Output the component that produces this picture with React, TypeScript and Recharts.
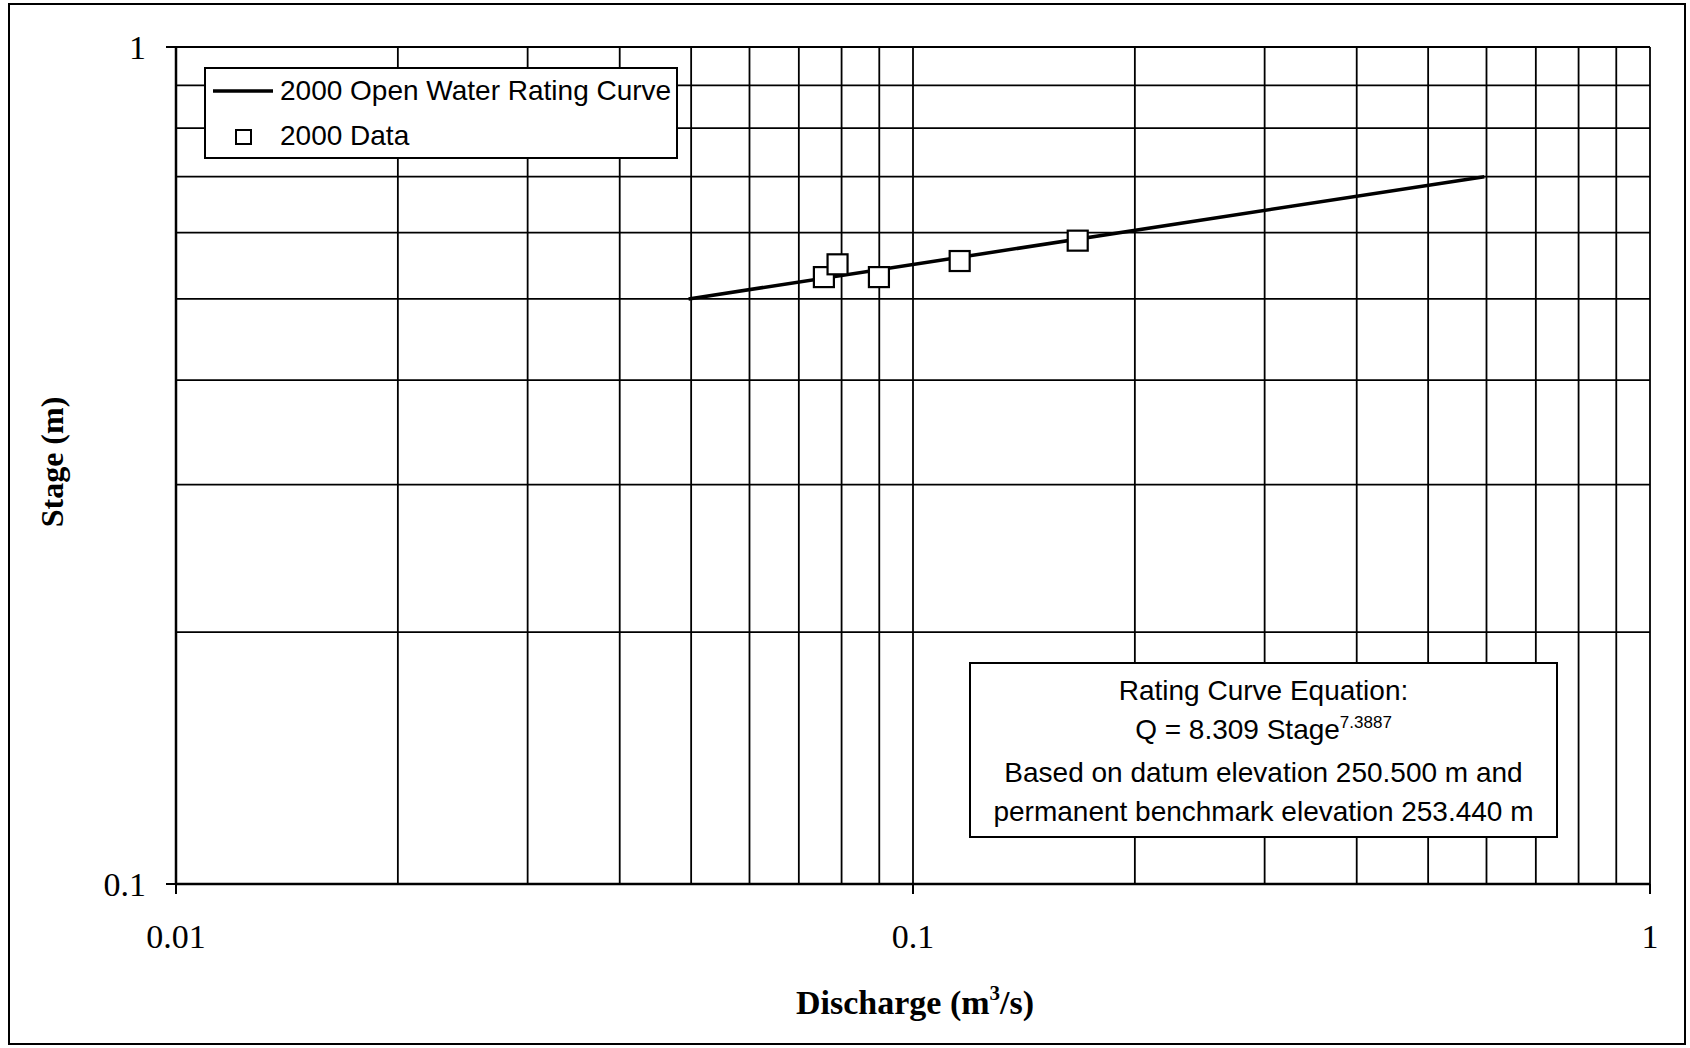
import React from "react"
import { ComposedChart, Line, Scatter, XAxis, YAxis, CartesianGrid, Legend } from "recharts"

// rating curve end points (power law, straight on log-log)
const ratingCurve = [
  { q: 0.0496, stage: 0.5 },
  { q: 0.596, stage: 0.7 },
]

// measured 2000 data
const observations = [
  { q: 0.0757, stage: 0.531 },
  { q: 0.079, stage: 0.55 },
  { q: 0.0899, stage: 0.531 },
  { q: 0.1157, stage: 0.555 },
  { q: 0.1673, stage: 0.587 },
]

const xTicks = [0.01, 0.1, 1]
const yTicks = [0.1, 1]
const xGrid = [0.02, 0.03, 0.04, 0.05, 0.06, 0.07, 0.08, 0.09, 0.1, 0.2, 0.3, 0.4, 0.5, 0.6, 0.7, 0.8, 0.9, 1]
const yGrid = [0.2, 0.3, 0.4, 0.5, 0.6, 0.7, 0.8, 0.9, 1]

const serif = "'Times New Roman', 'Liberation Serif', serif"
const sans = "Arial, 'Liberation Sans', sans-serif"

const SquareDot = (props: any) => {
  const { cx, cy } = props
  if (cx == null || cy == null) return null
  return <rect x={cx - 10} y={cy - 10} width={20} height={20} fill="#fff" stroke="#000" strokeWidth={2.2} />
}

const LegendBox = ({ payload }: any) => {
  // line entry first, as in the original legend
  const items = (Array.isArray(payload) ? payload : [])
    .slice()
    .sort((a: any, b: any) => (a.type === "line" ? -1 : 0) - (b.type === "line" ? -1 : 0))
  return (
    <div
      style={{
        boxSizing: "border-box",
        width: 474,
        height: 92,
        border: "2px solid #000",
        background: "#fff",
        fontFamily: sans,
        fontSize: 28,
        color: "#000",
        position: "relative",
      }}
    >
      {items.map((entry: any, i: number) => (
        <div
          key={entry.value}
          style={{ position: "absolute", left: 0, top: i === 0 ? 4 : 49, height: 36, display: "flex", alignItems: "center" }}
        >
          <svg width={74} height={36} style={{ display: "block" }}>
            {entry.type === "line" ? (
              <line x1={7} y1={18} x2={67} y2={18} stroke="#000" strokeWidth={3.5} />
            ) : (
              <rect x={30} y={12} width={15} height={14} fill="#fff" stroke="#000" strokeWidth={2} />
            )}
          </svg>
          <span style={{ whiteSpace: "nowrap" }}>{entry.value}</span>
        </div>
      ))}
    </div>
  )
}

export default function App() {
  return (
    <div style={{ position: "absolute", left: 0, top: 0, width: 1690, height: 1048, background: "#fff" }}>
      <div
        style={{
          position: "absolute",
          left: 8,
          top: 3,
          width: 1678,
          height: 1042,
          boxSizing: "border-box",
          border: "2px solid #000",
        }}
      />
      <ComposedChart width={1690} height={1048} margin={{ top: 47, right: 40, left: 76, bottom: 104 }}>
        <CartesianGrid
          horizontalValues={yGrid}
          verticalValues={xGrid}
          stroke="#000"
          strokeWidth={1.8}
          strokeDasharray=""
        />
        <XAxis
          dataKey="q"
          type="number"
          scale="log"
          domain={[0.01, 1]}
          allowDataOverflow
          ticks={xTicks}
          tickFormatter={(v) => String(v)}
          height={60}
          tickSize={10}
          tickMargin={30}
          axisLine={{ stroke: "#000", strokeWidth: 2.5 }}
          tickLine={{ stroke: "#000", strokeWidth: 2 }}
          tick={{ fill: "#000", fontFamily: serif, fontSize: 34 }}
        />
        <YAxis
          dataKey="stage"
          type="number"
          scale="log"
          domain={[0.1, 1]}
          allowDataOverflow
          ticks={yTicks}
          tickFormatter={(v) => String(v)}
          width={100}
          tickSize={10}
          tickMargin={20}
          axisLine={{ stroke: "#000", strokeWidth: 2.5 }}
          tickLine={{ stroke: "#000", strokeWidth: 2 }}
          tick={{ fill: "#000", fontFamily: serif, fontSize: 34 }}
        />
        <Legend
          layout="vertical"
          align="center"
          verticalAlign="middle"
          wrapperStyle={{ left: 204, top: 67, width: 474, height: 92 }}
          content={<LegendBox />}
        />
        <Line
          data={ratingCurve}
          dataKey="stage"
          name="2000 Open Water Rating Curve"
          type="linear"
          stroke="#000"
          strokeWidth={3.5}
          dot={false}
          activeDot={false}
          legendType="line"
          isAnimationActive={false}
        />
        <Scatter
          data={observations}
          dataKey="stage"
          name="2000 Data"
          shape={<SquareDot />}
          legendType="square"
          isAnimationActive={false}
        />
      </ComposedChart>

      <div
        style={{
          position: "absolute",
          left: 52,
          top: 462,
          transform: "translate(-50%, -50%) rotate(-90deg)",
          fontFamily: serif,
          fontWeight: "bold",
          fontSize: 32,
          whiteSpace: "nowrap",
          lineHeight: "36px",
        }}
      >
        Stage (m)
      </div>
      <div
        style={{
          position: "absolute",
          left: 915,
          top: 1005,
          transform: "translate(-50%, -50%)",
          fontFamily: serif,
          fontWeight: "bold",
          fontSize: 34,
          whiteSpace: "nowrap",
          lineHeight: "38px",
        }}
      >
        Discharge (m<span style={{ fontSize: 21, position: "relative", top: -14 }}>3</span>/s)
      </div>
      <div
        style={{
          position: "absolute",
          left: 969,
          top: 662,
          width: 589,
          height: 176,
          boxSizing: "border-box",
          border: "2px solid #000",
          background: "#fff",
          fontFamily: sans,
          fontSize: 28,
          lineHeight: "39px",
          textAlign: "center",
          paddingTop: 7,
          color: "#000",
        }}
      >
        <div>Rating Curve Equation:</div>
        <div>
          Q = 8.309 Stage<span style={{ fontSize: 17, position: "relative", top: -11 }}>7.3887</span>
        </div>
        <div>Based on datum elevation 250.500 m and</div>
        <div>permanent benchmark elevation 253.440 m</div>
      </div>
    </div>
  )
}
